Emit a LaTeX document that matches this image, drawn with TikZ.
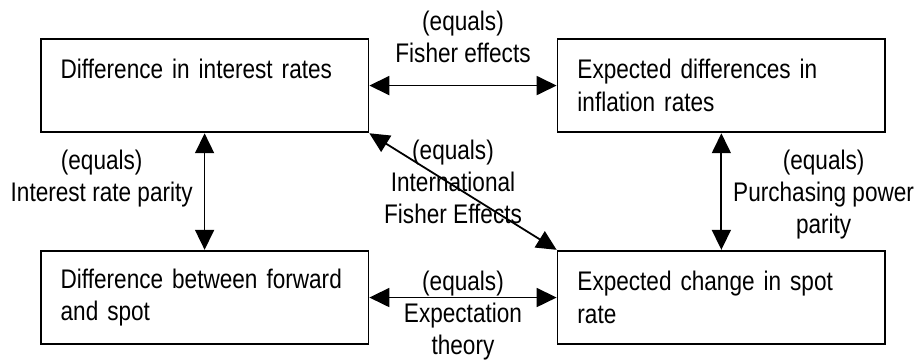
\documentclass[tikz,border=0pt]{standalone}
\usepackage{fontspec}
\setmainfont{Liberation Sans}[FakeStretch=0.84]
\usepackage{tikz}
\usetikzlibrary{positioning,arrows.meta}

\begin{document}
\begin{tikzpicture}[
    node distance=58.5pt and 94pt,
    box/.style={draw, line width=0.9pt, minimum height=47pt, text width=144.5pt, inner xsep=10pt, inner ysep=0pt, align=left, font=\fontsize{13.5}{16.5}\selectfont},
    lbl/.style={align=center, inner sep=1pt, font=\fontsize{13.5}{16}\selectfont},
    arr/.style={{Triangle[length=10pt,width=9.5pt]}-{Triangle[length=10pt,width=9.5pt]}, line width=0.9pt}
]
    % The four quantities
    \node[box] (rates) {Difference in interest rates\\ \mbox{}};
    \node[box, right=of rates] (infl) {Expected differences in\\inflation rates};
    \node[box, below=of rates] (fwd) {Difference between forward\\and spot};
    \node[box, below=of infl] (spot) {Expected change in spot\\rate};

    % Parity relations
    \draw[arr] (rates) -- (infl) node[lbl, midway, above=10pt] {(equals)\\Fisher effects};
    \draw[arr] (rates) -- (fwd) node[lbl, pos=0.12, anchor=north east, xshift=-4.5pt] {(equals)\\Interest rate parity};
    \draw[arr] (infl) -- (spot) node[lbl, pos=0.12, anchor=north west, xshift=4.5pt] {(equals)\\Purchasing power\\parity};
    \draw[arr] (rates.south east) -- (spot.north west) node[lbl, midway, xshift=-5pt, yshift=5pt] {(equals)\\International\\Fisher Effects};
    \draw[arr] (fwd) -- (spot) node[lbl, midway, yshift=-9pt] {(equals)\\Expectation\\theory};

    \useasboundingbox ([shift={(-20pt,19pt)}]rates.north west) rectangle ([shift={(16pt,-8.5pt)}]spot.south east);
\end{tikzpicture}
\end{document}
